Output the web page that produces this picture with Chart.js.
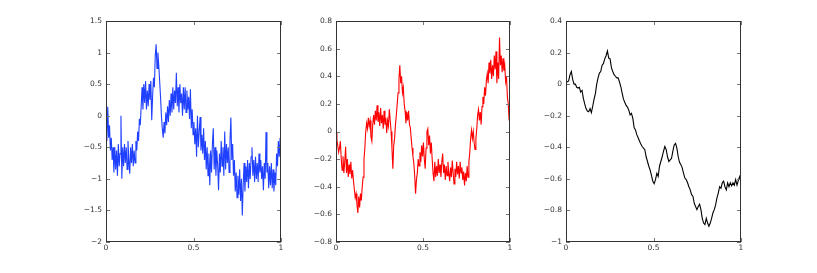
<!DOCTYPE html>
<html>
<head>
<meta charset="utf-8">
<script src="https://cdn.jsdelivr.net/npm/chart.js@4"></script>
<style>
  body { margin: 0; background: #fff; }
  #wrap { position: relative; width: 817px; height: 273px; }
  canvas { position: absolute; top: 0; }
</style>
</head>
<body>
<div id="wrap">
  <canvas id="c1" width="220" height="273" style="left:66px"></canvas>
  <canvas id="c2" width="219" height="273" style="left:296px"></canvas>
  <canvas id="c3" width="220" height="273" style="left:526px"></canvas>
</div>
<script>
// tick positions
const xTicks = [0, 0.5, 1];
const blueTicks = [-2, -1.5, -1, -0.5, 0, 0.5, 1, 1.5];
const redTicks = [-0.8, -0.6, -0.4, -0.2, 0, 0.2, 0.4, 0.6, 0.8];
const blackTicks = [-1, -0.8, -0.6, -0.4, -0.2, 0, 0.2, 0.4];

// signal 1 (blue), 200 samples on [0, 1]
const blueValues = [
  -0.1, -0.4, 0.14, -0.35, -0.15, -0.55, -0.35, -0.7, -0.5, -0.9,
  -0.5, -0.85, -0.55, -0.95, -0.45, -0.8, -0.6, 0.0, -1.0, -0.5,
  -0.8, -0.45, -0.75, -0.5, -0.85, -0.4, -0.7, -0.92, -0.5, -0.75,
  -0.45, -0.8, -0.55, -0.75, -0.4, -0.55, -0.25, -0.4, -0.05, -0.15,
  0.15, 0.45, 0.1, 0.5, 0.2, 0.55, 0.1, 0.4, 0.15, 0.5,
  0.25, 0.55, -0.07, 0.3, 0.6, 0.45, 0.95, 1.13, 0.75, 1.0,
  0.8, 0.55, 0.3, 0.0, -0.2, -0.35, -0.1, -0.28, 0.05, -0.15,
  0.15, -0.1, 0.25, 0.0, 0.35, 0.05, 0.45, 0.1, 0.4, 0.2,
  0.68, 0.15, 0.45, 0.05, 0.5, 0.2, 0.35, 0.0, 0.45, 0.1,
  0.45, 0.05, 0.4, 0.1, 0.3, -0.05, 0.42, -0.2, 0.1, -0.3,
  -0.1, -0.45, -0.2, -0.65, 0.0, -0.5, -0.25, -0.02, -0.55, -0.3,
  -0.6, -0.2, -0.7, -0.4, -0.85, -0.5, -0.95, -0.6, -1.1, -0.55,
  -0.9, -0.45, -0.2, -0.85, -0.5, -0.95, -0.55, -0.8, -1.18, -0.6,
  -0.9, -0.4, -0.8, -0.5, -0.95, -0.25, -0.85, -0.45, -0.75, -0.5,
  -0.9, -0.4, -0.03, -0.7, -0.45, -0.95, -0.7, -1.2, -0.9, -1.3,
  -0.95, -1.25, -0.85, -1.35, -1.0, -1.58, -1.1, -0.75, -1.2, -0.8,
  -1.05, -0.7, -1.15, -0.75, -1.0, -0.65, -0.5, -0.95, -0.7, -1.05,
  -0.65, -1.0, -0.75, -1.05, -0.6, -0.9, -0.7, -1.0, -0.8, -1.18,
  -0.75, -1.0, -0.26, -0.9, -0.75, -1.15, -0.8, -1.1, -0.75, -1.15,
  -0.85, -1.2, -0.9, -1.1, -0.6, -0.8, -0.4, -0.65, -0.35, -0.5
];

// signal 2 (red), 200 samples on [0, 1]
const redValues = [
  -0.01, -0.06, -0.1, -0.15, -0.12, -0.07, -0.2, -0.28, -0.18, -0.3,
  -0.22, -0.11, -0.3, -0.2, -0.33, -0.24, -0.31, -0.22, -0.34, -0.28,
  -0.36, -0.42, -0.48, -0.45, -0.53, -0.59, -0.47, -0.55, -0.45, -0.5,
  -0.4, -0.33, -0.2, -0.12, 0.0, 0.06, 0.02, 0.1, 0.04, 0.08,
  -0.04, -0.07, 0.05, 0.12, 0.05, 0.15, 0.08, 0.19, 0.07, 0.14,
  0.04, 0.17, 0.06, 0.12, 0.02, 0.15, 0.05, 0.1, -0.01, 0.08,
  0.04, 0.16, 0.08, 0.0, -0.12, -0.27, -0.1, -0.05, 0.05, 0.12,
  0.2, 0.28, 0.38, 0.48, 0.35, 0.4, 0.28, 0.32, 0.2, 0.15,
  0.06, 0.14, 0.08, 0.15, 0.05, 0.03, -0.05, -0.12, -0.18, -0.23,
  -0.32, -0.45, -0.35, -0.3, -0.2, -0.25, -0.15, -0.22, -0.1, -0.18,
  -0.08, -0.2, -0.27, -0.12, 0.0, 0.02, -0.1, -0.03, -0.16, -0.08,
  -0.2, -0.3, -0.36, -0.22, -0.33, -0.25, -0.32, -0.2, -0.3, -0.24,
  -0.33, -0.22, -0.16, -0.3, -0.24, -0.35, -0.25, -0.32, -0.22, -0.3,
  -0.36, -0.26, -0.33, -0.21, -0.3, -0.38, -0.27, -0.33, -0.22, -0.31,
  -0.25, -0.34, -0.22, -0.3, -0.26, -0.35, -0.29, -0.39, -0.3, -0.36,
  -0.25, -0.33, -0.22, -0.15, -0.05, 0.01, -0.05, 0.0, -0.08, -0.13,
  -0.05, 0.02, 0.12, 0.16, 0.08, 0.14, 0.05, 0.18, 0.25, 0.2,
  0.32, 0.26, 0.37, 0.42, 0.35, 0.5, 0.42, 0.52, 0.38, 0.48,
  0.4, 0.55, 0.45, 0.58, 0.35, 0.5, 0.38, 0.68, 0.48, 0.55,
  0.43, 0.53, 0.44, 0.48, 0.36, 0.4, 0.25, 0.2, 0.08, 0.22
];

// signal 3 (black), 132 samples on [0, 1]
const blackValues = [
  0.01, 0.015, 0.02, 0.06, 0.08, 0.03, 0.0, 0.0, -0.02, -0.025,
  -0.02, -0.05, -0.04, -0.09, -0.125, -0.155, -0.17, -0.175, -0.155, -0.18,
  -0.14, -0.095, -0.06, 0.0, 0.04, 0.07, 0.08, 0.12, 0.13, 0.16,
  0.18, 0.21, 0.165, 0.16, 0.105, 0.08, 0.06, 0.05, 0.04, 0.04,
  0.015, -0.015, -0.055, -0.095, -0.115, -0.135, -0.145, -0.165, -0.195, -0.185,
  -0.215, -0.275, -0.29, -0.32, -0.34, -0.36, -0.38, -0.395, -0.405, -0.415,
  -0.46, -0.49, -0.52, -0.545, -0.58, -0.615, -0.63, -0.605, -0.565, -0.585,
  -0.52, -0.49, -0.46, -0.425, -0.395, -0.415, -0.46, -0.49, -0.48, -0.47,
  -0.425, -0.385, -0.375, -0.405, -0.46, -0.495, -0.51, -0.53, -0.565, -0.595,
  -0.605, -0.625, -0.65, -0.67, -0.7, -0.71, -0.755, -0.775, -0.795, -0.775,
  -0.76, -0.795, -0.85, -0.88, -0.89, -0.85, -0.88, -0.9, -0.88, -0.85,
  -0.815, -0.795, -0.765, -0.72, -0.69, -0.65, -0.66, -0.625, -0.615, -0.65,
  -0.67, -0.625, -0.65, -0.625, -0.645, -0.625, -0.64, -0.605, -0.64, -0.61,
  -0.585, -0.615
];

const fmt = v => String(Number(v.toFixed(2))).replace("-", "\u2212");
const tickFont = { family: "'DejaVu Sans', sans-serif", size: 7.5 };

// inward ticks on all four sides + box, like matlab
const boxTicks = {
  id: "boxTicks",
  afterDraw(chart) {
    const { ctx, chartArea: a, scales: { x, y } } = chart;
    ctx.save();
    ctx.strokeStyle = "#777";
    ctx.lineWidth = 1;
    ctx.beginPath();
    y.ticks.forEach(t => {
      const py = Math.round(y.getPixelForValue(t.value)) + 0.5;
      ctx.moveTo(a.left, py); ctx.lineTo(a.left + 4, py);
      ctx.moveTo(a.right, py); ctx.lineTo(a.right - 4, py);
    });
    x.ticks.forEach(t => {
      const px = Math.round(x.getPixelForValue(t.value)) + 0.5;
      ctx.moveTo(px, a.top); ctx.lineTo(px, a.top + 4);
      ctx.moveTo(px, a.bottom); ctx.lineTo(px, a.bottom - 4);
    });
    ctx.stroke();
    ctx.strokeStyle = "#333";
    ctx.strokeRect(Math.round(a.left) + 0.5, Math.round(a.top) + 0.5,
      Math.round(a.width) - 1, Math.round(a.height) - 1);
    ctx.restore();
  }
};

function makeChart(id, values, color, yTicks) {
  const pts = values.map((v, i) => ({ x: i / (values.length - 1), y: v }));
  new Chart(document.getElementById(id), {
    type: "line",
    data: {
      datasets: [{
        data: pts,
        borderColor: color,
        borderWidth: 1.1,
        pointRadius: 0,
        tension: 0,
        fill: false
      }]
    },
    options: {
      responsive: false,
      animation: false,
      devicePixelRatio: 1,
      layout: { padding: { top: 21, right: 5, bottom: 0, left: 0 } },
      plugins: { legend: { display: false }, tooltip: { enabled: false } },
      scales: {
        x: {
          type: "linear",
          min: 0, max: 1,
          afterBuildTicks: s => { s.ticks = xTicks.map(v => ({ value: v })); },
          afterFit: s => { s.height = 31; },
          grid: { display: false, drawTicks: false },
          border: { display: false },
          ticks: { callback: fmt, color: "#333", padding: 2, maxRotation: 0, font: tickFont }
        },
        y: {
          min: yTicks[0], max: yTicks[yTicks.length - 1],
          afterBuildTicks: s => { s.ticks = yTicks.map(v => ({ value: v })); },
          afterFit: s => { s.width = 40; },
          grid: { display: false, drawTicks: false },
          border: { display: false },
          ticks: { callback: fmt, color: "#333", padding: 4, font: tickFont }
        }
      }
    },
    plugins: [boxTicks]
  });
}

makeChart("c1", blueValues, "#2040ff", blueTicks);
makeChart("c2", redValues, "#ff0000", redTicks);
makeChart("c3", blackValues, "#000000", blackTicks);
</script>
</body>
</html>
